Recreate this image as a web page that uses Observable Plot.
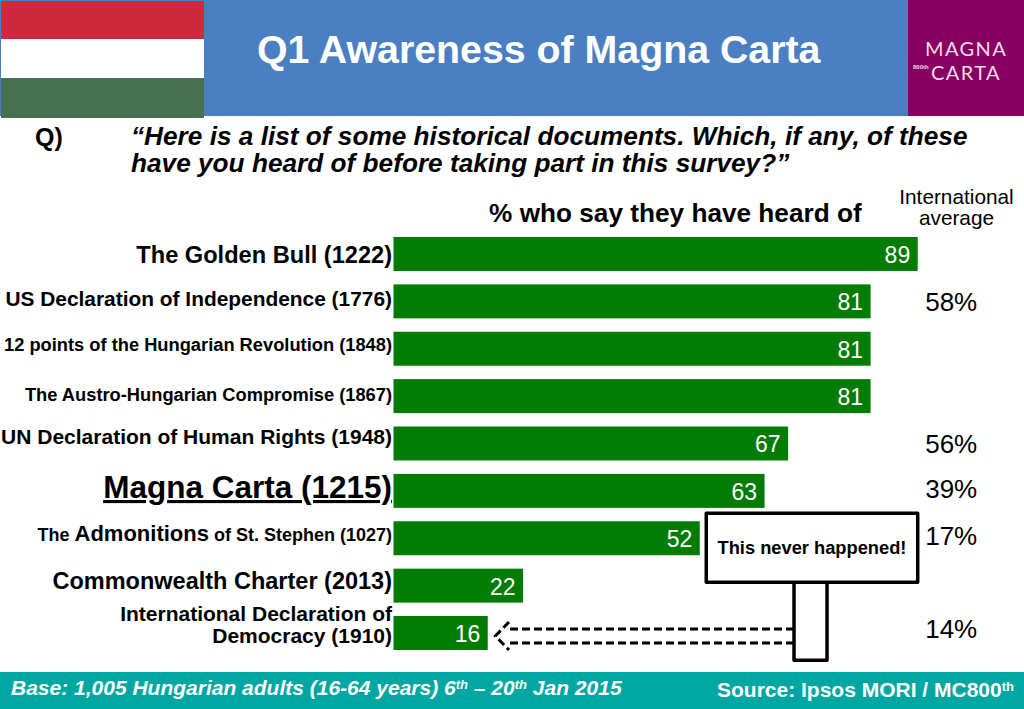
<!DOCTYPE html>
<html><head><meta charset="utf-8">
<script src="https://cdn.jsdelivr.net/npm/d3@7"></script>
<script src="https://cdn.jsdelivr.net/npm/@observablehq/plot@0.6"></script>
<style>
html,body{margin:0;padding:0;background:#fff;width:1024px;height:709px;overflow:hidden;font-family:"Liberation Sans",Arial,sans-serif}
#page{position:relative;width:1024px;height:709px}
.abs{position:absolute;white-space:nowrap}
#head{position:relative;height:116px;background:#4a80c1}
#question{position:relative;height:64px}
#chart svg{display:block;background:transparent;overflow:visible}
#foot{position:relative;height:37px;background:#00a7a2;color:#fff;font-weight:bold}
sup{font-size:.62em;line-height:0;vertical-align:.5em}
</style></head><body>
<div id="page">
  <div id="head">
    <div class="abs" style="left:1px;top:1px;width:203px;height:38px;background:#cd2a3e"></div>
    <div class="abs" style="left:1px;top:39px;width:203px;height:39px;background:#fff"></div>
    <div class="abs" style="left:1px;top:78px;width:203px;height:40px;background:#477050"></div>
    <div class="abs" id="title" style="left:257px;top:28px;font-size:38px;font-weight:bold;color:#fff;line-height:44px;transform:scaleX(1.034);transform-origin:left">Q1 Awareness of Magna Carta</div>
    <div class="abs" style="left:908px;top:0;width:116px;height:116px;background:#850060"></div>
    <div class="abs" style="left:908px;width:116px;top:36px;text-align:center;color:#f3dcea;font-family:Lato,sans-serif;font-weight:400;font-size:20px;line-height:24px;letter-spacing:1.4px">MAGNA<br>CARTA</div>
    <div class="abs" style="left:913px;top:64px;color:#f3dcea;font-size:6px;font-weight:bold">800th</div>
  </div>
  <div id="question">
    <div class="abs" style="left:35px;top:6px;font-size:25px;font-weight:bold;line-height:30px">Q)</div>
    <div class="abs" style="left:131px;top:7px;font-size:25.8px;font-weight:bold;font-style:italic;line-height:27px;transform:scaleX(1.016);transform-origin:left">“Here is a list of some historical documents. Which, if any, of these<br>have you heard of before taking part in this survey?”</div>
  </div>
  <div id="chart"></div>
  <div id="foot">
    <div class="abs" style="left:11px;top:4px;font-size:21px;font-style:italic;line-height:24px">Base: 1,005 Hungarian adults (16-64 years) 6<sup>th</sup> – 20<sup>th</sup> Jan 2015</div>
    <div class="abs" style="right:10px;top:6px;font-size:21px;line-height:24px">Source: Ipsos MORI / MC800<sup>th</sup></div>
  </div>
</div>
<script>
const categories = [
  "The Golden Bull (1222)",
  "US Declaration of Independence (1776)",
  "12 points of the Hungarian Revolution (1848)",
  "The Austro-Hungarian Compromise (1867)",
  "UN Declaration of Human Rights (1948)",
  "Magna Carta (1215)",
  "The Admonitions of St. Stephen (1027)",
  "Commonwealth Charter (2013)",
  "International Declaration of\nDemocracy (1910)"
];
const heardOf = [89, 81, 81, 81, 67, 63, 52, 22, 16];
const internationalAverage = [null, 58, null, null, 56, 39, 17, null, 14];
const rows = categories.map((name, i) => ({name, value: heardOf[i], intl: internationalAverage[i]}));

// Presentation only: per-row label size and vertical nudge
const labelSize = [23.6, 20.9, 18.3, 18.3, 21, 31.5, 18, 23.5, 21];
const labelNudge = [1, -3, -4, -2, -7, -4, -4, -5.5, -9];
const intlNudge = [0, 1, 1, -2, 1, -2, -2.5, 0, -4];

const col = 94.6; // data-unit x of the international column

const annotate = (index, {x, y}) => {
  const g = d3.create("svg:g");
  const a = y(categories[6]) + y.bandwidth() / 2;
  const b = y(categories[8]) + y.bandwidth() / 2;
  const dash = {stroke: "#000", "stroke-width": 3, "stroke-dasharray": "8 4", fill: "none"};
  const path = g.append("path").attr("d",
    `M${x(68)},${b - 4}L${x(19.6)},${b - 4}` +
    `M${x(68)},${b + 10}L${x(19.6)},${b + 10}` +
    `M${x(19.6)},${b - 11}L${x(17.3)},${b + 3}L${x(19.6)},${b + 17}`);
  for (const k in dash) path.attr(k, dash[k]);
  g.append("rect").attr("x", x(68)).attr("y", a + 44).attr("width", x(73.6) - x(68)).attr("height", 78)
    .attr("fill", "#fff").attr("stroke", "#000").attr("stroke-width", 3.5).attr("stroke-linejoin", "round");
  g.append("rect").attr("x", x(53.1)).attr("y", a - 25).attr("width", x(89) - x(53.1)).attr("height", 69)
    .attr("fill", "#fff").attr("stroke", "#000").attr("stroke-width", 3.5).attr("stroke-linejoin", "round");
  g.append("text").attr("x", (x(53.1) + x(89)) / 2).attr("y", a + 16).attr("text-anchor", "middle")
    .attr("font-size", 18.3).attr("font-weight", "bold").attr("fill", "#000").text("This never happened!");
  return g.node();
};

const plot = Plot.plot({
  width: 1024, height: 492,
  marginLeft: 0, marginRight: 0, marginTop: 0, marginBottom: 0,
  style: {fontFamily: '"Liberation Sans",Arial,sans-serif', background: "transparent", overflow: "visible"},
  x: {domain: [0, 100], range: [393.5, 982.5], axis: null},
  y: {type: "band", domain: categories, range: [50.3, 476.7], paddingInner: 0.283, paddingOuter: 0.1415, round: false, axis: null},
  marks: [
    Plot.barX(rows, {x: "value", y: "name", fill: "#027c02"}),
    Plot.text(rows, {x: "value", y: "name", text: "value", textAnchor: "end", dx: -8, dy: 1, fill: "#fff", fontSize: 23}),
    ...categories.map((name, i) => Plot.text([name], {
      x: () => 0, y: d => d, text: d => d, textAnchor: "end", dx: -2, dy: labelNudge[i],
      fontSize: labelSize[i], fontWeight: "bold", fill: "#000", lineHeight: 1.05
    })),
    ...rows.map((d, i) => d.intl == null ? null : Plot.text([d], {
      x: () => col, y: "name", text: r => r.intl + "%", dy: intlNudge[i], fontSize: 26, fill: "#000"
    })),
    Plot.text(["% who say they have heard of"], {x: () => 79.4, y: () => categories[0], text: d => d, textAnchor: "end", dy: -41, fontSize: 26.2, fontWeight: "bold", fill: "#000"}),
    Plot.text(["International\naverage"], {x: () => 95.5, y: () => categories[0], text: d => d, dy: -47, fontSize: 20.8, fill: "#000", lineHeight: 1.05}),
    annotate
  ]
});
document.getElementById("chart").appendChild(plot);

const sel = d3.select(plot).selectAll("text");
sel.filter(function(){return this.textContent === "Magna Carta (1215)";}).style("text-decoration", "underline");
sel.filter(function(){return this.textContent === categories[6];}).each(function(){
  const t = d3.select(this); t.text(null);
  t.append("tspan").text("The ");
  t.append("tspan").attr("font-size", 22).text("Admonitions");
  t.append("tspan").text(" of St. Stephen (1027)");
});
</script>
</body></html>
